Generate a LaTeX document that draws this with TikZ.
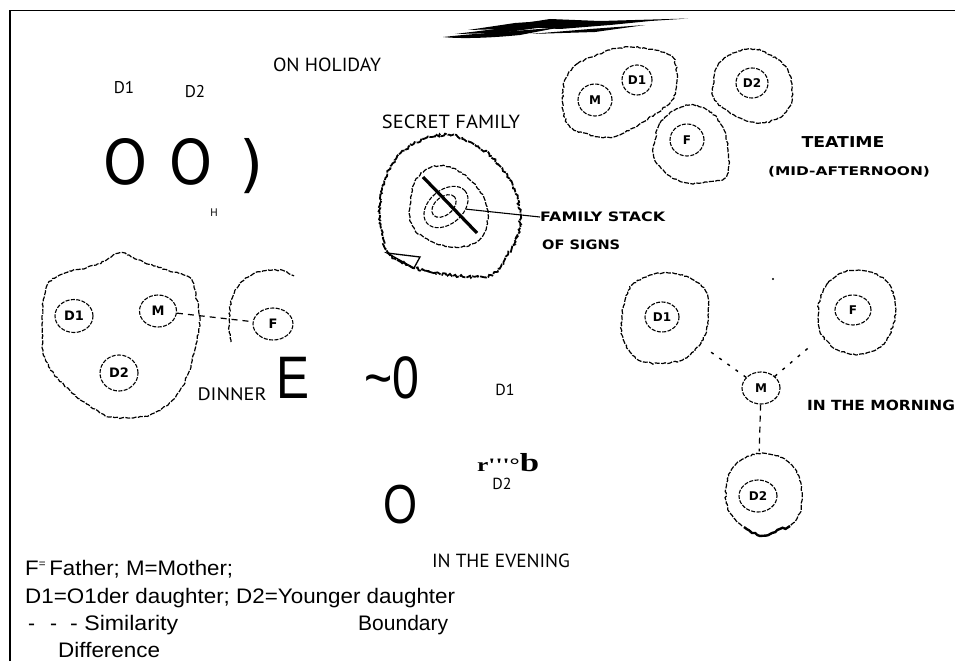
\documentclass[tikz,border=0pt]{standalone}
\usepackage{fontspec}
\usepackage{graphicx}
\usetikzlibrary{decorations.pathmorphing,shapes.geometric}
\newfontfamily\labf{PT Sans}
\newfontfamily\arf{Liberation Sans}
\newfontfamily\verf{DejaVu Sans}
\newfontfamily\tmsf{Liberation Serif}
\newfontfamily\garbf{DejaVu Sans}
\newcommand\fs[1]{\fontsize{#1}{#1}\selectfont}
\newcommand\fitw[2]{\resizebox{#1pt}{\height}{#2}}
\begin{document}
\pgfmathsetseed{7}
\begin{tikzpicture}[x=1pt,y=-1pt]
\tikzset{
  lab/.style={inner sep=0pt, font=\labf\fs{19}},
  small/.style={inner sep=0pt, font=\labf\fs{17}},
  bigv/.style={inner sep=0pt, font=\verf\fs{62}},
  bigA/.style={inner sep=0pt, font=\arf\fs{60}},
  garb/.style={inner sep=0pt, font=\garbf\bfseries\fs{13}},
  leg/.style={inner sep=0pt, font=\arf\fs{21}},
  blob/.style={line width=1.2pt, dash pattern=on 5pt off 1.4pt,
    decorate, decoration={random steps, segment length=2.4pt, amplitude=0.8pt}},
  heavyblob/.style={line width=1.8pt, dash pattern=on 7pt off 1pt,
    decorate, decoration={random steps, segment length=2pt, amplitude=1.3pt}},
  ring/.style={ellipse, draw, line width=1.1pt, dash pattern=on 4pt off 1.4pt,
    inner sep=0pt, font=\garbf\bfseries\fs{12}},
  sim/.style={line width=1.2pt, dash pattern=on 6pt off 5pt},
  dotsim/.style={line width=1.4pt, dash pattern=on 3pt off 7pt},
  frame/.style={line width=1.3pt}
}
\useasboundingbox (0,0) rectangle (955,661);
\fill[white] (0,0) rectangle (955,661);
% frame (top and left only)
\draw[frame] (10,661) -- (10,10.5) -- (955,10.5);

% scribble at the top
\fill (443,37) .. controls (480,33) and (520,31) .. (562,27) -- (520,35) .. controls (490,38) and (460,39) .. cycle;
\fill (468,30) -- (515,23) -- (560,20) -- (602,22) -- (560,26) -- (505,29) -- cycle;
\fill (505,26) -- (550,19) -- (600,21) -- (688,18.5) -- (650,21) -- (610,25) -- (560,29) -- cycle;
\fill (530,34) -- (590,29) -- (645,25) -- (595,32) -- cycle;
\fill (455,34) -- (520,26) -- (545,27) -- (500,33) -- cycle;

% ---------------- ON HOLIDAY ----------------
\node[lab] (holiday) at (327,65) {\fitw{108}{ON HOLIDAY}};
\node[small] (hD1) at (124,88) {D1};
\node[small] (hD2) at (195,92) {D2};
\node[bigv] (hO1) at (125,162) {\fitw{44}{O}};
\node[bigv] (hO2) at (191,162) {\fitw{43}{O}};
\node[bigv] (hP) at (252,166) {)};
\node[inner sep=0pt, font=\labf\fs{11}] (hH) at (214,213) {H};

% ---------------- SECRET FAMILY ----------------
\node[lab] (secret) at (451,122) {\fitw{138}{SECRET FAMILY}};
\draw[heavyblob] plot[smooth cycle, tension=0.6] coordinates {
  (380,205) (385,180) (396,159) (412,145) (430,137) (450,135) (470,142)
  (491,156) (509,179) (519,205) (518,234) (505,259) (491,275) (460,276)
  (430,272) (408,265) (390,255) (382,234)};
\draw[line width=1.3pt] (387,253) -- (420,257) -- (414,268) -- cycle;
\draw[blob] plot[smooth cycle, tension=0.6] coordinates {
  (410,205) (415,181) (430,168) (450,167) (470,180) (485,200) (487,225)
  (475,243) (450,247) (425,238) (412,225)};
\node[ring, minimum width=50pt, minimum height=34pt, rotate=40] (sfcore) at (446,207) {};
\node[ring, minimum width=28pt, minimum height=18pt, rotate=40] (sfin) at (444,206) {};
\draw[line width=3.2pt] (423,177) -- (477,233);
\node[garb, anchor=west] (fstack) at (540,217) {\fitw{125}{FAMILY STACK}};
\node[garb, anchor=west] (signs) at (542,245) {\fitw{78}{OF SIGNS}};
\draw[line width=1.1pt] (sfcore) -- (fstack.west);

% ---------------- TEATIME ----------------
\draw[blob] plot[smooth cycle, tension=0.6] coordinates {
  (565,80) (577,64) (595,56) (610,50) (630,47) (655,50) (673,58) (677,80)
  (672,100) (655,114) (633,128) (613,137) (590,135) (570,127) (563,110) (563,92)};
\draw[blob] plot[smooth cycle, tension=0.6] coordinates {
  (713,85) (718,65) (730,55) (748,49) (765,52) (785,66) (792,85) (790,106)
  (778,118) (760,123) (740,118) (723,108) (714,98)};
\draw[blob] plot[smooth cycle, tension=0.6] coordinates {
  (655,140) (660,123) (675,110) (690,105) (708,110) (722,126) (728,150)
  (726,177) (705,182) (688,183) (670,176) (658,165) (653,152)};
\node[ring, minimum width=34pt, minimum height=32pt] (tM) at (595,100) {M};
\node[ring, minimum width=30pt, minimum height=30pt] (tD1) at (637,80) {D1};
\node[ring, minimum width=32pt, minimum height=30pt] (tD2) at (752,83) {D2};
\node[ring, minimum width=34pt, minimum height=32pt] (tF) at (687,140) {F};
\node[garb, font=\garbf\bfseries\fs{15}] (tea) at (843,142) {\fitw{83}{TEATIME}};
\node[garb, font=\garbf\bfseries\fs{12}] (mid) at (849,172) {\fitw{162}{(MID-AFTERNOON)}};

% ---------------- DINNER ----------------
\draw[blob] plot[smooth cycle, tension=0.5] coordinates {
  (120,253) (145,263) (167,270) (190,278) (197,300) (200,320) (196,344)
  (188,374) (175,398) (150,415) (110,417) (80,399) (54,374) (43,350)
  (43,306) (48,284) (65,273) (96,265)};
\draw[blob] (231,342) .. controls (227,320) and (229,296) .. (240,283)
  .. controls (252,271) and (276,264) .. (294,276);
\node[ring, minimum width=38pt, minimum height=33pt, font=\garbf\bfseries\fs{13}] (dD1) at (74,316) {D1};
\node[ring, minimum width=37pt, minimum height=32pt, font=\garbf\bfseries\fs{13}] (dM) at (158,311) {M};
\node[ring, minimum width=38pt, minimum height=36pt, font=\garbf\bfseries\fs{13}] (dD2) at (119,373) {D2};
\node[ring, minimum width=40pt, minimum height=32pt, font=\garbf\bfseries\fs{13}] (dF) at (273,324) {F};
\draw[sim] (dM) -- (dF);
\node[lab, font=\labf\fs{18}] (dinner) at (232,394) {\fitw{69}{DINNER}};
\node[bigA] (bigE) at (293,378) {\fitw{33}{E}};
\node[bigA] (tilde0) at (392,378) {\fitw{55}{\textasciitilde 0}};

% ---------------- IN THE MORNING ----------------
\draw[blob] plot[smooth cycle, tension=0.6] coordinates {
  (625,300) (632,285) (648,276) (668,273) (690,278) (706,292) (708,315)
  (705,335) (690,355) (670,363) (645,362) (630,352) (622,335) (622,318)};
\draw[blob] plot[smooth cycle, tension=0.6] coordinates {
  (820,300) (828,283) (845,272) (865,271) (885,280) (895,300) (893,325)
  (882,345) (860,354) (838,350) (822,335) (818,318)};
\draw[blob] (742,526) .. controls (730,518) and (724,505) .. (726,488)
  .. controls (727,470) and (740,455) .. (762,453)
  .. controls (785,453) and (800,468) .. (802,492)
  .. controls (803,510) and (798,520) .. (790,526);
\draw[line width=2.4pt, decorate, decoration={random steps, segment length=3pt, amplitude=1.2pt}]
  (744,527) -- (752,533) -- (760,536) -- (772,533) -- (790,526);
\node[ring, minimum width=34pt, minimum height=30pt] (mD1) at (662,317) {D1};
\node[ring, minimum width=36pt, minimum height=30pt] (mF) at (853,310) {F};
\node[ring, minimum width=38pt, minimum height=32pt] (mM) at (761,388) {M};
\node[ring, minimum width=38pt, minimum height=32pt] (mD2) at (758,496) {D2};
\draw[dotsim, shorten >=42pt] (mM) -- (mD1);
\draw[dotsim, shorten >=36pt] (mM) -- (mF);
\draw[sim, shorten >=28pt] (mM) -- (mD2);
\fill (773,279) circle (1.2pt);
\node[garb, font=\garbf\bfseries\fs{14}] (morning) at (881,405) {\fitw{148}{IN THE MORNING}};

% ---------------- IN THE EVENING ----------------
\node[small, font=\labf\fs{16}] (eD1) at (505,390) {D1};
\node[inner sep=0pt, anchor=base west] (rb) at (477,471) {\fitw{62}{{\tmsf\bfseries\fs{19}r'''°}{\tmsf\bfseries\fs{26}b}}};
\node[small, font=\labf\fs{16}] (eD2) at (502,484) {D2};
\node[bigA, font=\arf\fs{55}] (eO) at (400,505) {\fitw{34}{O}};
\node[lab] (evening) at (501,561) {\fitw{138}{IN THE EVENING}};

% ---------------- legend ----------------
\node[leg, anchor=base west] (l1) at (25,575) {\fitw{208}{F\raisebox{8pt}{\fs{11}=}\,Father; M=Mother;}};
\node[leg, anchor=base west] (l2) at (25,603) {\fitw{430}{D1=O1der daughter; D2=Younger daughter}};
\node[leg, anchor=base west] (l3a) at (28,630) {-};
\node[leg, anchor=base west] (l3b) at (50,630) {-};
\node[leg, anchor=base west] (l3) at (70,630) {\fitw{108}{- Similarity}};
\node[leg, anchor=base west] (l4) at (358,630) {\fitw{90}{Boundary}};
\node[leg, anchor=base west] (l5) at (58,657) {\fitw{102}{Difference}};
\end{tikzpicture}
\end{document}
